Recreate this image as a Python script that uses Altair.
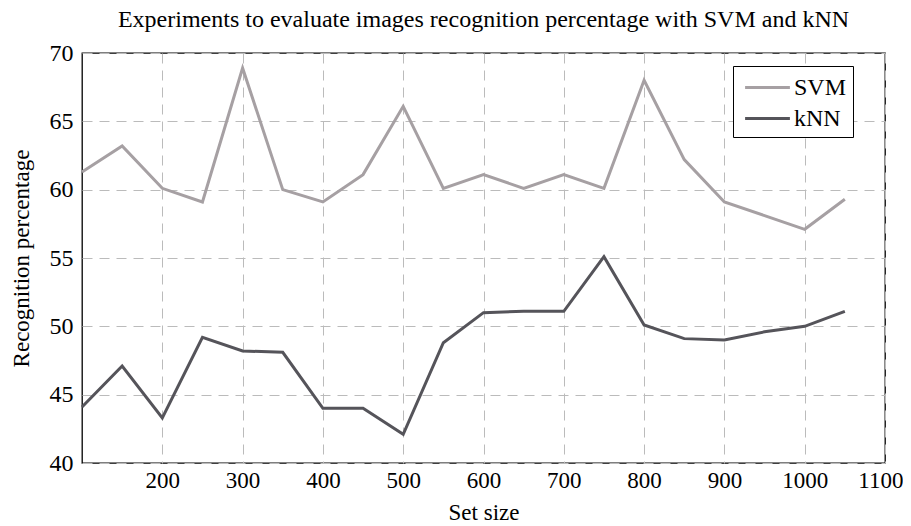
import altair as alt
import pandas as pd

set_size = [100, 150, 200, 250, 300, 350, 400, 450, 500, 550,
            600, 650, 700, 750, 800, 850, 900, 950, 1000, 1050]
svm = [61.3, 63.2, 60.1, 59.1, 68.9, 60.0, 59.1, 61.1, 66.1, 60.1,
       61.1, 60.1, 61.1, 60.1, 68.0, 62.2, 59.1, 58.1, 57.1, 59.3]
knn = [44.1, 47.1, 43.3, 49.2, 48.2, 48.1, 44.0, 44.0, 42.1, 48.8,
       51.0, 51.1, 51.1, 55.1, 50.1, 49.1, 49.0, 49.6, 50.0, 51.1]
series = ["SVM", "kNN"]
colors = ["#a6a0a3", "#55545a"]
x_ticks = [200, 300, 400, 500, 600, 700, 800, 900, 1000, 1100]
y_ticks = [40, 45, 50, 55, 60, 65, 70]

rows = []
for name, vals in zip(series, [svm, knn]):
    for s, v in zip(set_size, vals):
        rows.append({"Set size": s, "value": v, "method": name})
df = pd.DataFrame(rows)

FONT = "Liberation Serif"

chart = alt.Chart(df).mark_line(strokeWidth=3).encode(
    x=alt.X("Set size:Q",
            scale=alt.Scale(domain=[100, 1100], nice=False),
            axis=alt.Axis(values=x_ticks, format="d", title="Set size",
                          labelFontSize=23, labelFont=FONT,
                          labelFlush=5, labelFlushOffset=18,
                          labelPadding=6, ticks=False, domain=False,
                          titleFontSize=23, titleFont=FONT,
                          titleFontWeight="normal",
                          titleBaseline="alphabetic", titleY=56,
                          gridDash=[10, 7], gridColor="#bbbbbb")),
    y=alt.Y("value:Q",
            scale=alt.Scale(domain=[40, 70], nice=False),
            axis=alt.Axis(values=y_ticks, format="d",
                          title="Recognition percentage",
                          labelFontSize=24, labelFont=FONT,
                          labelPadding=9, ticks=False,
                          domain=False, titleFontSize=23, titleFont=FONT,
                          titleFontWeight="normal", titleX=-49,
                          gridDash=[10, 7], gridColor="#bbbbbb")),
    color=alt.Color("method:N",
                    scale=alt.Scale(domain=series, range=colors),
                    sort=series,
                    legend=alt.Legend(title=None, orient="none",
                                      legendX=651, legendY=13,
                                      symbolType="M-1.6,0H1.6", symbolSize=784,
                                      symbolStrokeWidth=3, symbolOffset=13,
                                      labelFontSize=24, labelFont=FONT,
                                      labelColor="black",
                                      strokeColor="black", fillColor="white",
                                      padding=6, labelOffset=11,
                                      rowPadding=3)),
).properties(
    width=803, height=410,
    title=alt.TitleParams("Experiments to evaluate images recognition percentage with SVM and kNN",
                          fontSize=24, font=FONT, fontWeight="normal",
                          color="black", offset=9, anchor="middle"),
    autosize=alt.AutoSizeParams(type="none"),
    padding={"left": 74, "top": 45, "right": 18, "bottom": 62},
).configure(
    font=FONT
).configure_axis(
    labelColor="black", titleColor="black"
).configure_view(
    stroke="black", strokeWidth=1.3
)

chart.save("out.html", embed_options={"renderer": "svg", "actions": False})
